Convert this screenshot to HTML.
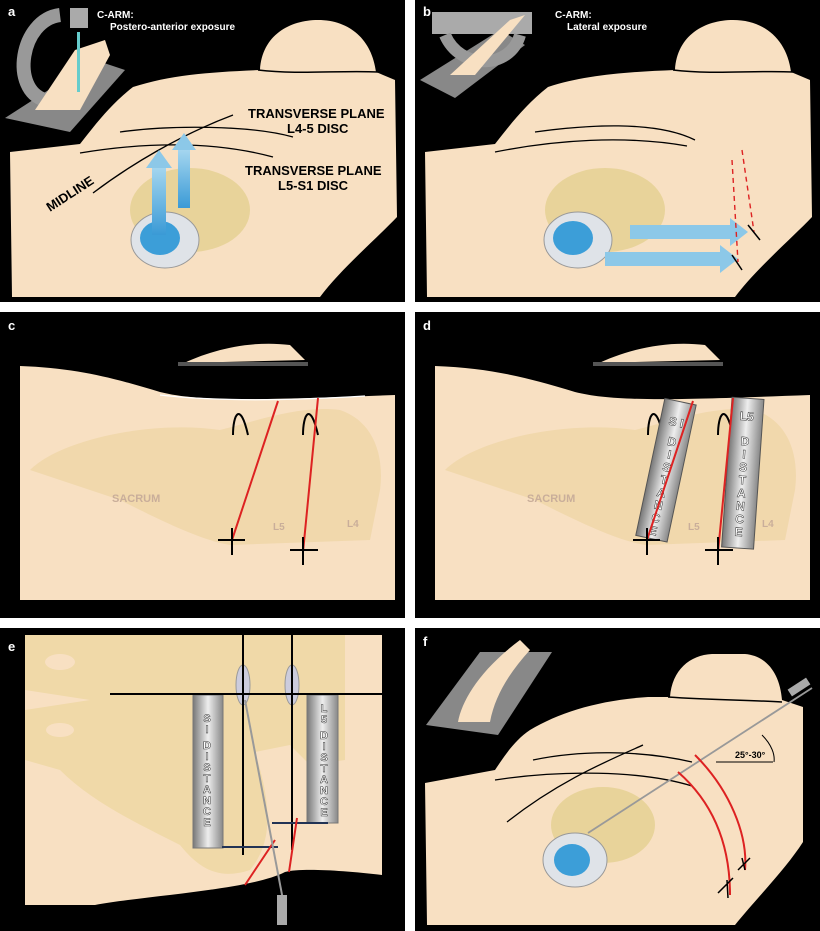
<!DOCTYPE html>
<html><head><meta charset="utf-8"><style>
html,body{margin:0;padding:0;background:#fff}
svg{display:block}
text{font-family:"Liberation Sans",sans-serif;font-weight:bold}
</style></head><body>
<svg width="820" height="931" viewBox="0 0 820 931" xmlns="http://www.w3.org/2000/svg">
<defs>
<linearGradient id="rul" x1="0" x2="1" y1="0" y2="0"><stop offset="0" stop-color="#777"/><stop offset="0.5" stop-color="#eee"/><stop offset="1" stop-color="#888"/></linearGradient>
<linearGradient id="blu" x1="0" x2="0" y1="1" y2="0"><stop offset="0" stop-color="#3a9ad6"/><stop offset="1" stop-color="#a8d8f0"/></linearGradient>
</defs>
<rect x="0" y="0" width="405" height="302" fill="#000"/>
<rect x="415" y="0" width="405" height="302" fill="#000"/>
<rect x="0" y="312" width="405" height="306" fill="#000"/>
<rect x="415" y="312" width="405" height="306" fill="#000"/>
<rect x="0" y="628" width="405" height="303" fill="#000"/>
<rect x="415" y="628" width="405" height="303" fill="#000"/>

<!-- PANEL A -->
<path d="M10,152 L80,144 C95,125 110,105 133,87 C170,75 210,72 260,70 C262,35 290,20 318,20 C350,20 372,40 376,72 L395,80 L397,217 C375,240 340,270 320,297 L12,297 Z" fill="#f8e0c2"/>
<path d="M258,70 C300,75 340,70 378,72" stroke="#000" stroke-width="1.5" fill="none"/>
<path d="M80,153 C140,143 210,140 273,157" stroke="#000" fill="none" stroke-width="1.3"/>
<path d="M120,132 C170,125 250,125 293,137" stroke="#000" fill="none" stroke-width="1.3"/>
<path d="M93,193 C130,165 180,135 233,115" stroke="#000" fill="none" stroke-width="1.3"/>
<text x="248" y="118" font-size="13">TRANSVERSE PLANE</text>
<text x="287" y="133" font-size="13">L4-5 DISC</text>
<text x="245" y="175" font-size="13">TRANSVERSE PLANE</text>
<text x="278" y="190" font-size="13">L5-S1 DISC</text>
<text x="50" y="212" font-size="13" transform="rotate(-33 50 212)">MIDLINE</text>
<ellipse cx="190" cy="210" rx="60" ry="42" fill="#e8d39a"/>
<ellipse cx="165" cy="240" rx="34" ry="28" fill="#dfe3e8" stroke="#999"/>
<ellipse cx="160" cy="238" rx="20" ry="17" fill="#3c9ed8"/>
<rect x="152" y="165" width="14" height="70" fill="url(#blu)"/><path d="M146,168 L159,150 L172,168Z" fill="#8cc8e8"/>
<rect x="178" y="148" width="12" height="60" fill="url(#blu)"/><path d="M172,150 L184,133 L196,150Z" fill="#8cc8e8"/>
<path d="M5,118 L95,60 L125,70 L70,132 Z" fill="#888"/>
<path d="M60,15 C20,20 10,90 45,100" stroke="#999" stroke-width="14" fill="none"/>
<rect x="70" y="8" width="18" height="20" fill="#aaa"/>
<path d="M35,110 L75,50 L105,40 L110,55 L80,110 Z" fill="#f8e0c2"/>
<rect x="77" y="32" width="3" height="60" fill="#6cc"/>
<text x="8" y="16" font-size="13" fill="#fff">a</text>
<text x="97" y="18" font-size="10" fill="#fff">C-ARM:</text>
<text x="110" y="30" font-size="10" fill="#fff">Postero-anterior exposure</text>

<!-- PANEL B -->
<path d="M425,152 L495,144 C510,125 525,105 548,87 C585,75 625,72 675,70 C677,35 705,20 733,20 C765,20 787,40 791,72 L810,80 L812,217 C790,240 755,270 735,297 L427,297 Z" fill="#f8e0c2"/>
<path d="M673,70 C715,75 755,70 793,72" stroke="#000" stroke-width="1.5" fill="none"/>
<path d="M495,152 C555,140 625,135 687,146" stroke="#000" fill="none" stroke-width="1.3"/>
<path d="M535,132 C585,125 655,120 695,140" stroke="#000" fill="none" stroke-width="1.3"/>
<ellipse cx="605" cy="210" rx="60" ry="42" fill="#e8d39a"/>
<ellipse cx="578" cy="240" rx="34" ry="28" fill="#dfe3e8" stroke="#999"/>
<ellipse cx="573" cy="238" rx="20" ry="17" fill="#3c9ed8"/>
<path d="M630,225 L730,225 L730,218 L748,232 L730,246 L730,239 L630,239Z" fill="#8cc8e8"/>
<path d="M605,252 L720,252 L720,245 L738,259 L720,273 L720,266 L605,266Z" fill="#8cc8e8"/>
<path d="M742,150 L754,232 M732,160 L738,262" stroke="#d22" stroke-dasharray="5 4" stroke-width="1.4"/>
<path d="M748,225 L760,240 M732,255 L742,270" stroke="#000" stroke-width="1.5"/>
<path d="M420,80 L500,30 L525,45 L455,98Z" fill="#888"/>
<rect x="432" y="12" width="100" height="22" fill="#aaa"/>
<path d="M445,35 C460,70 510,70 520,35" stroke="#999" stroke-width="12" fill="none"/>
<path d="M450,75 L510,20 L525,15 L475,75Z" fill="#f8e0c2"/>
<text x="423" y="16" font-size="13" fill="#fff">b</text>
<text x="555" y="18" font-size="10" fill="#fff">C-ARM:</text>
<text x="567" y="30" font-size="10" fill="#fff">Lateral exposure</text>

<!-- PANEL C -->
<path d="M20,366 C80,368 120,380 160,392 C200,402 260,400 395,395 L395,600 L20,600 Z" fill="#f8e0c2"/>
<path d="M30,470 C60,440 150,420 220,430 C260,420 300,405 340,410 C370,420 385,450 380,490 L370,540 L230,545 C200,540 160,520 120,500 Z" fill="#efd6a6" opacity="0.8"/>
<path d="M160,395 C220,402 300,400 365,396" stroke="#fff" stroke-width="1.2" fill="none"/>
<path d="M180,365 C210,350 250,340 290,345 L305,360 L180,363Z" fill="#f8e0c2"/>
<rect x="178" y="362" width="130" height="4" fill="#555"/>
<path d="M233,435 C233,415 240,400 248,435 M303,435 C303,415 310,400 318,435" stroke="#000" stroke-width="2" fill="none"/>
<path d="M278,401 L232,540 M318,398 L303,552" stroke="#d22" stroke-width="2"/>
<path d="M218,540 L245,540 M232,528 L232,555 M290,550 L318,550 M303,537 L303,565" stroke="#000" stroke-width="2"/>
<text x="112" y="502" font-size="11" fill="#c9ae9a">SACRUM</text>
<text x="273" y="530" font-size="10" fill="#c9ae9a">L5</text>
<text x="347" y="527" font-size="10" fill="#c9ae9a">L4</text>
<text x="8" y="330" font-size="13" fill="#fff">c</text>

<!-- PANEL D -->
<path d="M435,366 C495,368 535,380 575,392 C615,402 675,400 810,395 L810,600 L435,600 Z" fill="#f8e0c2"/>
<path d="M445,470 C475,440 565,420 635,430 C675,420 715,405 755,410 C785,420 800,450 795,490 L785,540 L645,545 C615,540 575,520 535,500 Z" fill="#efd6a6" opacity="0.8"/>
<path d="M595,365 C625,350 665,340 705,345 L720,360 L595,363Z" fill="#f8e0c2"/>
<rect x="593" y="362" width="130" height="4" fill="#555"/>
<path d="M648,435 C648,415 655,400 663,435 M718,435 C718,415 725,400 733,435" stroke="#000" stroke-width="2" fill="none"/>
<g transform="rotate(12 665 470)"><rect x="650" y="400" width="32" height="140" fill="url(#rul)" stroke="#555"/><text x="666" y="425" font-size="12" fill="#fff" text-anchor="middle" stroke="#333" stroke-width="0.5">S I</text><text x="666" y="445" font-size="12" fill="#fff" text-anchor="middle" stroke="#333" stroke-width="0.5"><tspan x="666" dy="0">D</tspan><tspan x="666" dy="13">I</tspan><tspan x="666" dy="13">S</tspan><tspan x="666" dy="13">T</tspan><tspan x="666" dy="13">A</tspan><tspan x="666" dy="13">N</tspan><tspan x="666" dy="13">C</tspan><tspan x="666" dy="13">E</tspan></text></g>
<g transform="rotate(4 740 470)"><rect x="727" y="398" width="32" height="150" fill="url(#rul)" stroke="#555"/><text x="743" y="420" font-size="12" fill="#fff" text-anchor="middle" stroke="#333" stroke-width="0.5">L5</text><text x="743" y="445" font-size="12" fill="#fff" text-anchor="middle" stroke="#333" stroke-width="0.5"><tspan x="743" dy="0">D</tspan><tspan x="743" dy="13">I</tspan><tspan x="743" dy="13">S</tspan><tspan x="743" dy="13">T</tspan><tspan x="743" dy="13">A</tspan><tspan x="743" dy="13">N</tspan><tspan x="743" dy="13">C</tspan><tspan x="743" dy="13">E</tspan></text></g>
<path d="M693,401 L647,540 M733,398 L718,552" stroke="#d22" stroke-width="2"/>
<path d="M633,540 L660,540 M647,528 L647,555 M705,550 L733,550 M718,537 L718,565" stroke="#000" stroke-width="2"/>
<text x="527" y="502" font-size="11" fill="#c9ae9a">SACRUM</text>
<text x="688" y="530" font-size="10" fill="#c9ae9a">L5</text>
<text x="762" y="527" font-size="10" fill="#c9ae9a">L4</text>
<text x="423" y="330" font-size="13" fill="#fff">d</text>

<!-- PANEL E -->
<path d="M25,635 L382,635 L382,875 C340,870 300,868 285,872 C250,890 150,895 95,905 L25,905 Z" fill="#f8e0c2"/>
<path d="M25,635 L345,635 L345,760 L310,765 L290,745 L255,752 C270,800 275,840 250,870 C220,880 200,870 180,845 C130,820 90,800 60,770 L25,760 L25,710 L90,700 L25,690 Z" fill="#f0d9a8"/>
<ellipse cx="60" cy="662" rx="15" ry="8" fill="#f8e0c2"/>
<ellipse cx="60" cy="730" rx="14" ry="7" fill="#f8e0c2"/>
<rect x="193" y="695" width="30" height="153" fill="url(#rul)" stroke="#777"/>
<rect x="307" y="695" width="31" height="128" fill="url(#rul)" stroke="#777"/>
<text font-size="11" fill="#fff" text-anchor="middle" stroke="#333" stroke-width="0.5"><tspan x="207" y="722">S</tspan><tspan x="207" dy="11">I</tspan><tspan x="207" dy="16">D</tspan><tspan x="207" dy="11">I</tspan><tspan x="207" dy="11">S</tspan><tspan x="207" dy="11">T</tspan><tspan x="207" dy="11">A</tspan><tspan x="207" dy="11">N</tspan><tspan x="207" dy="11">C</tspan><tspan x="207" dy="11">E</tspan></text>
<text font-size="11" fill="#fff" text-anchor="middle" stroke="#333" stroke-width="0.5"><tspan x="324" y="712">L</tspan><tspan x="324" dy="11">5</tspan><tspan x="324" dy="16">D</tspan><tspan x="324" dy="11">I</tspan><tspan x="324" dy="11">S</tspan><tspan x="324" dy="11">T</tspan><tspan x="324" dy="11">A</tspan><tspan x="324" dy="11">N</tspan><tspan x="324" dy="11">C</tspan><tspan x="324" dy="11">E</tspan></text>
<ellipse cx="243" cy="685" rx="7" ry="20" fill="#ccd" stroke="#999"/>
<ellipse cx="292" cy="685" rx="7" ry="20" fill="#ccd" stroke="#999"/>
<path d="M110,694 L385,694 M243,632 L243,855 M292,632 L292,850" stroke="#000" stroke-width="2"/>
<path d="M222,847 L278,847 M272,823 L328,823" stroke="#235" stroke-width="2"/>
<path d="M275,840 L245,885 M297,818 L289,872" stroke="#d22" stroke-width="2"/>
<path d="M245,700 L283,900" stroke="#999" stroke-width="2"/>
<rect x="277" y="895" width="10" height="30" fill="#aaa"/>
<text x="8" y="651" font-size="13" fill="#fff">e</text>

<!-- PANEL F -->
<path d="M425,783 L495,770 C505,755 515,740 530,730 C560,712 600,700 648,697 L670,697 C672,670 690,655 712,654 L745,654 C768,656 780,675 782,700 L803,707 L803,842 C785,870 755,900 735,925 L427,925 Z" fill="#f8e0c2"/>
<path d="M668,697 C710,700 750,700 782,702" stroke="#000" stroke-width="1.5" fill="none"/>
<path d="M495,780 C560,770 640,770 692,786" stroke="#000" fill="none" stroke-width="1.3"/>
<path d="M533,760 C580,750 640,750 692,762" stroke="#000" fill="none" stroke-width="1.3"/>
<path d="M507,822 C560,780 610,760 643,745" stroke="#000" fill="none" stroke-width="1.3"/>
<ellipse cx="603" cy="825" rx="52" ry="38" fill="#e8d39a"/>
<ellipse cx="575" cy="860" rx="32" ry="27" fill="#dfe3e8" stroke="#999"/>
<ellipse cx="572" cy="860" rx="18" ry="16" fill="#3c9ed8"/>
<path d="M588,833 L812,688" stroke="#999" stroke-width="1.8"/>
<rect x="788" y="683" width="22" height="8" fill="#aaa" transform="rotate(-33 799 687)"/>
<path d="M678,772 C710,800 730,840 730,895 M695,755 C730,790 748,835 745,870" stroke="#d22" stroke-width="2" fill="none"/>
<path d="M716,762 L773,762 M762,735 C772,745 775,755 774,762" stroke="#000" fill="none"/>
<text x="735" y="758" font-size="9" fill="#000">25°-30°</text>
<path d="M718,893 L733,878 M727,880 L728,898 M742,858 L745,870 M738,870 L750,858" stroke="#000" stroke-width="1.5"/>
<path d="M426,725 L480,652 L552,652 L498,735Z" fill="#888"/>
<path d="M458,722 C462,700 480,670 520,640 L530,650 C510,672 495,695 490,722Z" fill="#f8e0c2"/>
<text x="423" y="646" font-size="13" fill="#fff">f</text>
</svg>
</body></html>
